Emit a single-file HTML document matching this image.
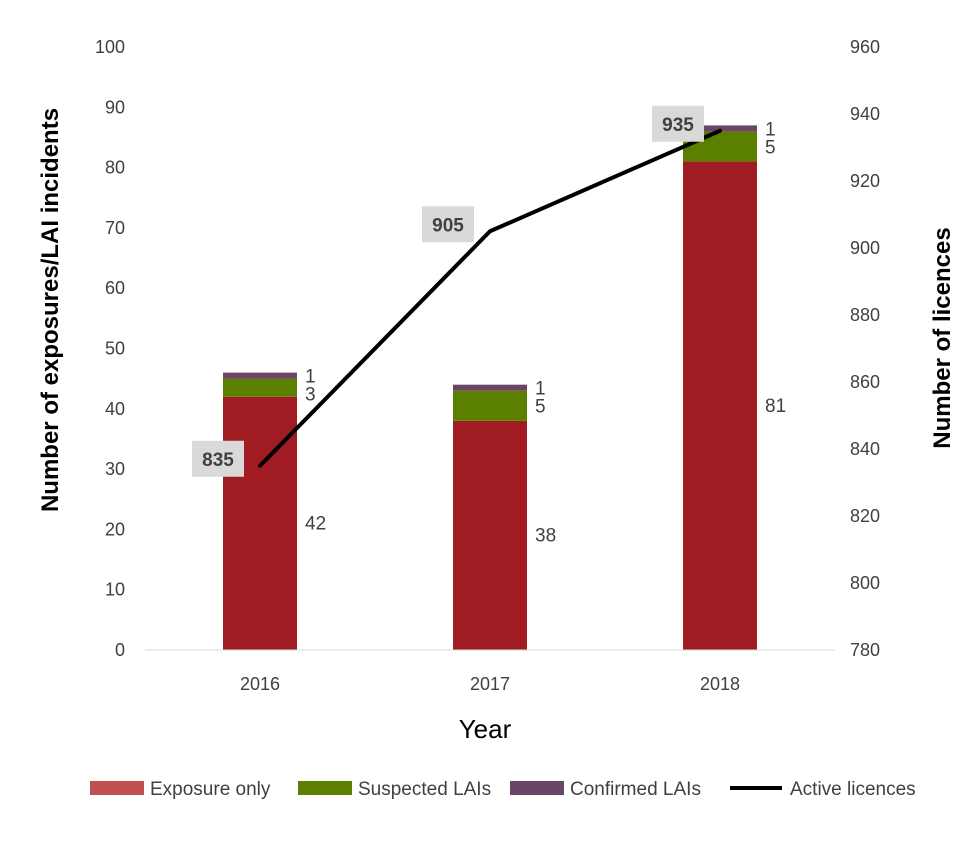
<!DOCTYPE html>
<html><head><meta charset="utf-8"><style>
body{margin:0;background:#fff;font-family:"Liberation Sans",sans-serif;}
svg text{font-family:"Liberation Sans",sans-serif;fill:#404040;}
</style></head><body>
<svg id="chart" width="980" height="853" xmlns="http://www.w3.org/2000/svg">
<g id="g"></g>
</svg>
<script>
const years=["2016","2017","2018"];
const exposure=[42,38,81];
const suspected=[3,5,5];
const confirmed=[1,1,1];
const licences=[835,905,935];
const leftTicks=[0,10,20,30,40,50,60,70,80,90,100];
const rightTicks=[780,800,820,840,860,880,900,920,940,960];

const NS="http://www.w3.org/2000/svg";
const g=document.getElementById('g');
function el(t,a,txt){const e=document.createElementNS(NS,t);for(const k in a)e.setAttribute(k,a[k]);if(txt!==undefined)e.textContent=txt;g.appendChild(e);return e;}
const y0=650,y1=47;
const yL=v=>y0-(v-0)/100*(y0-y1);
const yR=v=>y0-(v-780)/180*(y0-y1);
const plotL=145,plotR=835,bw=74;
const xC=i=>plotL+(plotR-plotL)*(i+0.5)/years.length;

leftTicks.forEach(v=>{const t=el('text',{x:125,y:yL(v)+6,'text-anchor':'end','font-size':18},v);

});
rightTicks.forEach(v=>{const t=el('text',{x:850,y:yR(v)+6,'font-size':18},v);

});

years.forEach((yr,i)=>{
  const x=xC(i)-bw/2;
  const segs=[[exposure[i],0,'#a01c22','bar-exposure'],[suspected[i],exposure[i],'#5b8000','bar-suspected'],[confirmed[i],exposure[i]+suspected[i],'#6b4565','bar-confirmed']];
  segs.forEach(s=>{const r=el('rect',{x:x,y:yL(s[1]+s[0]),width:bw,height:yL(s[1])-yL(s[1]+s[0]),fill:s[2]});
  
  });
  const tx=x+bw+8;
  let t=el('text',{x:tx,y:yL(exposure[i]/2)+6,'font-size':19},exposure[i]);
  
  
  t=el('text',{x:tx,y:yL(exposure[i]+suspected[i])+22,'font-size':19},suspected[i]);
  
  
  t=el('text',{x:tx,y:yL(exposure[i]+suspected[i])+4,'font-size':19},confirmed[i]);
  
  
  t=el('text',{x:xC(i),y:690,'text-anchor':'middle','font-size':18},yr);
  
  
});
const axis=el('line',{x1:plotL,x2:plotR,y1:y0,y2:y0,stroke:'#d9d9d9','stroke-width':1});



const pts=licences.map((v,i)=>xC(i)+','+yR(v)).join(' ');
const pl=el('polyline',{points:pts,fill:'none',stroke:'#000','stroke-width':4,'stroke-linecap':'round','stroke-linejoin':'round'});


licences.forEach((v,i)=>{
  const cx=xC(i)-42,cy=yR(v)-7;
  const r=el('rect',{x:cx-26,y:cy-18,width:52,height:36,fill:'#d9d9d9'});
  
  
  const t=el('text',{x:cx,y:cy+7,'text-anchor':'middle','font-size':19,'font-weight':'bold'},v);
  
  
});

let t=el('text',{x:0,y:0,'font-size':24,'font-weight':'bold',transform:'translate(58,310) rotate(-90)','text-anchor':'middle'},'Number of exposures/LAI incidents');
t.style.fill='#000';


t=el('text',{x:0,y:0,'font-size':24,'font-weight':'bold',transform:'translate(950,338) rotate(-90)','text-anchor':'middle'},'Number of licences');
t.style.fill='#000';


t=el('text',{x:485,y:738,'font-size':26,'text-anchor':'middle'},'Year');
t.style.fill='#000';



const leg=[['rect','#c0504d','Exposure only',90],['rect','#5b8000','Suspected LAIs',298],['rect','#6b4565','Confirmed LAIs',510],['line','#000','Active licences',730]];
leg.forEach(l=>{
  let s;
  if(l[0]==='rect') s=el('rect',{x:l[3],y:781,width:54,height:14,fill:l[1]});
  else s=el('line',{x1:l[3],x2:l[3]+52,y1:788,y2:788,stroke:'#000','stroke-width':4});
  
  
  const tt=el('text',{x:l[3]+60,y:795,'font-size':19},l[2]);
  
  
});
</script>
</body></html>
